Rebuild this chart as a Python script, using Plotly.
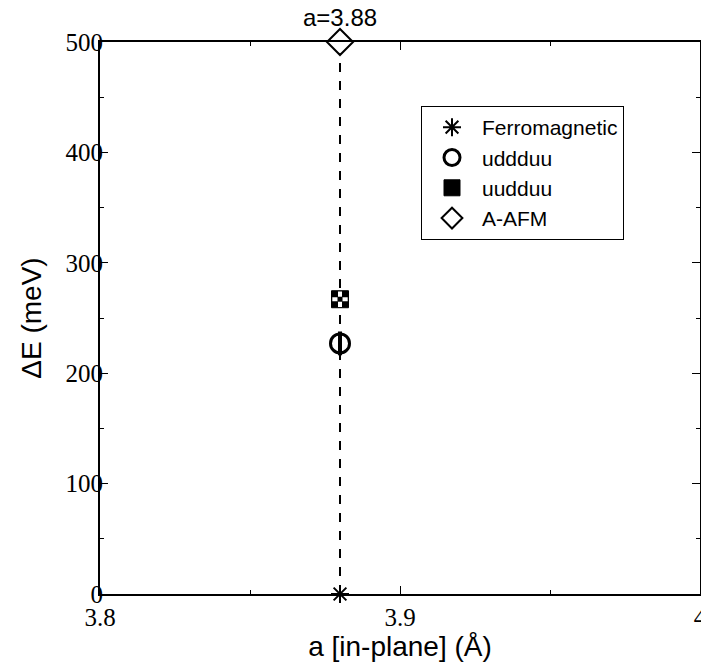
import plotly.graph_objects as go

# Magnetic configurations at the in-plane lattice parameter a = 3.88 Å
configs = ["Ferromagnetic", "uddduu", "uudduu", "A-AFM"]
a_inplane = [3.88, 3.88, 3.88, 3.88]
delta_e = [0, 227, 267, 500]

x_range = [3.8, 4.0]
y_range = [0, 500]

sans = "Liberation Sans, Arial, Helvetica, sans-serif"
serif = "Liberation Serif, Times New Roman, Times, serif"

fig = go.Figure()

# dashed guide through all configurations
fig.add_trace(go.Scatter(x=a_inplane, y=delta_e, mode="lines",
                         line=dict(color="black", width=2, dash="dash"),
                         showlegend=False, hoverinfo="skip", cliponaxis=False))

def pt(i, symbol, size, lw=2, color="black", fill="black", legend=False):
    fig.add_trace(go.Scatter(
        x=[a_inplane[i]], y=[delta_e[i]], mode="markers", name=configs[i],
        legendgroup=configs[i], showlegend=legend, cliponaxis=False,
        marker=dict(symbol=symbol, size=size, color=fill,
                    line=dict(color=color, width=lw))))

# Ferromagnetic: asterisk
pt(0, "asterisk-open", 15, lw=2, legend=True)
# uddduu: striped circle
pt(1, "circle-open", 19, lw=3, legend=True)
pt(1, "line-ns-open", 17, lw=4)
# uudduu: checkered square
pt(2, "square", 17, lw=1, legend=True)
pt(2, "cross-thin-open", 11, lw=4, color="white", fill="white")
pt(2, "square", 5, lw=0)
# A-AFM: open diamond (white body under a black outline)
pt(3, "diamond", 18, lw=0, fill="white")
pt(3, "diamond-open", 20, lw=2, legend=True)

axis_common = dict(showline=True, linecolor="black", linewidth=2, mirror="allticks",
                   ticks="inside", ticklen=8, tickwidth=1, tickcolor="black",
                   showgrid=False, zeroline=False, automargin=False,
                   tickfont=dict(family=serif, size=25, color="black"),
                   minor=dict(ticks="inside", ticklen=4, tickwidth=1, tickcolor="black",
                              showgrid=False))

fig.update_xaxes(range=x_range, dtick=0.1, ticklabeloverflow="allow",
                 title=dict(text="a [in-plane] (Å)", font=dict(family=sans, size=28, color="black"),
                            standoff=4),
                 **axis_common)
fig.update_xaxes(minor_dtick=0.05)
fig.update_yaxes(range=y_range, dtick=100, ticklabelstandoff=-10,
                 title=dict(text="ΔE (meV)", font=dict(family=sans, size=28, color="black"),
                            standoff=16),
                 **axis_common)
fig.update_yaxes(minor_dtick=50)

fig.add_annotation(x=a_inplane[3], y=1, yref="paper", yanchor="bottom", yshift=9,
                   text="a=3.88", showarrow=False,
                   font=dict(family=sans, size=24, color="black"))

fig.update_layout(
    width=701, height=668,
    margin=dict(l=100, r=1, t=42, b=74),
    font=dict(family=serif, color="black"),
    plot_bgcolor="white", paper_bgcolor="white",
    legend=dict(x=0.535, y=0.884, xanchor="left", yanchor="top",
                bordercolor="black", borderwidth=1, bgcolor="white",
                font=dict(family=sans, size=21, color="black"),
                tracegroupgap=0, itemwidth=50),
)

fig.write_html("out.html")
